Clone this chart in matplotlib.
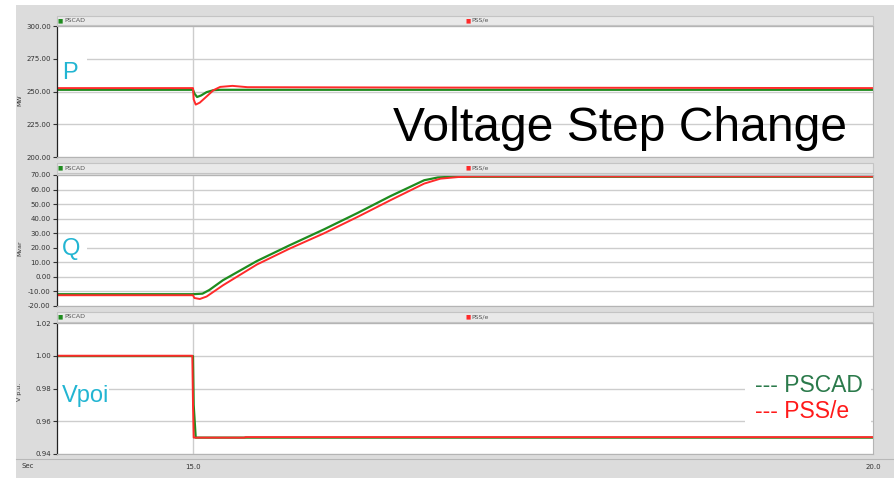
import matplotlib.pyplot as plt
from matplotlib.patches import Rectangle
from matplotlib.lines import Line2D

W, H = 894, 478

# ---- data ----
t_p_pscad = [14.0, 15.0, 15.01, 15.03, 15.06, 15.1, 15.15, 15.2, 20.0]
p_pscad = [251.3, 251.3, 248.5, 245.8, 247.0, 249.5, 251.0, 251.3, 251.3]
t_p_psse = [14.0, 15.0, 15.005, 15.02, 15.05, 15.1, 15.15, 15.2, 15.29, 15.4, 16.8, 20.0]
p_psse = [252.6, 252.6, 244.0, 240.0, 241.5, 246.2, 251.0, 253.5, 254.3, 253.3, 253.0, 252.6]

t_q_pscad = [14.0, 15.0, 15.07, 15.12, 15.22, 15.47, 15.71, 15.96, 16.21, 16.45, 16.70, 16.80, 16.9, 20.0]
q_pscad = [-11.9, -11.9, -11.5, -9.0, -2.3, 10.9, 21.7, 32.5, 43.9, 55.4, 66.4, 68.3, 68.8, 68.8]
t_q_psse = [14.0, 15.0, 15.01, 15.05, 15.1, 15.22, 15.47, 15.71, 15.96, 16.21, 16.45, 16.70, 16.82, 16.95, 17.06, 20.0]
q_psse = [-12.6, -12.6, -14.5, -15.2, -13.5, -5.8, 8.5, 19.4, 29.8, 41.2, 52.6, 64.1, 67.5, 68.6, 69.0, 69.0]

t_v_pscad = [14.0, 15.0, 15.005, 15.02, 20.0]
v_pscad = [0.9998, 0.9998, 0.97, 0.950, 0.950]
t_v_psse = [14.0, 14.995, 15.0, 15.005, 15.38, 15.385, 20.0]
v_psse = [1.0, 1.0, 0.97, 0.950, 0.950, 0.9503, 0.9503]

p_ticks = [200, 225, 250, 275, 300]
q_ticks = [-20, -10, 0, 10, 20, 30, 40, 50, 60, 70]
v_ticks = [0.94, 0.96, 0.98, 1.00, 1.02]
x_ticks = [15.0, 20.0]

GREEN = '#1e8c1e'
RED = '#ff2a2a'
CYAN = '#22b5d2'
GRID = '#cdcdcd'
BG = '#dcdcdc'


def fr(x0, y0, x1, y1):
    return [x0 / W, 1 - y1 / H, (x1 - x0) / W, (y1 - y0) / H]


def frect(x0, y0, x1, y1, **kw):
    r = Rectangle((x0 / W, 1 - y1 / H), (x1 - x0) / W, (y1 - y0) / H,
                  transform=fig.transFigure, **kw)
    fig.patches.append(r)


def blank(ax, x0, y0, x1, y1):
    # white patch behind the labels that hides the grid lines
    r = Rectangle((x0 / W, 1 - y1 / H), (x1 - x0) / W, (y1 - y0) / H,
                  transform=fig.transFigure, facecolor='white', edgecolor='none', zorder=1.5)
    ax.add_patch(r)


fig = plt.figure(figsize=(W / 100, H / 100), dpi=100)
fig.patch.set_facecolor('white')
frect(16, 5, 894, 478, facecolor=BG, edgecolor='none', zorder=-10)

# title bars with the small legends
for y0, y1 in [(16, 25), (163, 173), (312, 322)]:
    frect(57, y0, 873, y1, facecolor='#e9e9e9', edgecolor='#c4c4c4', lw=0.8, zorder=1)
    yc = 1 - (y0 + y1) / 2 / H
    fig.text(58 / W, yc, '\u25a0', color=GREEN, fontsize=4, va='center')
    fig.text(64 / W, yc, 'PSCAD', color='#555555', fontsize=4.5, va='center')
    fig.text(466 / W, yc, '\u25a0', color=RED, fontsize=4, va='center')
    fig.text(471 / W, yc, 'PSS/e', color='#555555', fontsize=4.5, va='center')


def setup(ax, ylim, yticks, ylabel, ylab_y):
    ax.set_facecolor('white')
    ax.set_xlim(14.0, 20.0)
    ax.set_ylim(ylim)
    ax.set_yticks(yticks)
    ax.set_yticklabels(['%.2f' % v for v in yticks])
    ax.tick_params(axis='y', labelsize=5, length=3, width=0.8, colors='#333333', pad=1.5)
    ax.grid(axis='y', color=GRID, lw=1)
    ax.axvline(15.0, color=GRID, lw=1, zorder=0.5)
    ax.set_axisbelow(True)
    for s in ['top', 'right', 'bottom']:
        ax.spines[s].set_color('#b4b4b4')
        ax.spines[s].set_linewidth(0.8)
    ax.spines['left'].set_color('#222222')
    ax.spines['left'].set_linewidth(0.9)
    fig.text(20 / W, 1 - ylab_y / H, ylabel, rotation=90, fontsize=4.5,
             color='#333333', ha='center', va='center')


ax1 = fig.add_axes(fr(57, 26, 873, 157))
ax2 = fig.add_axes(fr(57, 175, 873, 306))
ax3 = fig.add_axes(fr(57, 323, 873, 454))

setup(ax1, (200, 300), p_ticks, 'MW', 100)
setup(ax2, (-20, 70), q_ticks, 'Mvar', 248)
setup(ax3, (0.94, 1.02), v_ticks, 'V p.u.', 392)

ax1.plot(t_p_pscad, p_pscad, color=GREEN, lw=1.6, zorder=2)
ax1.plot(t_p_psse, p_psse, color=RED, lw=1.4, zorder=2)
ax2.plot(t_q_pscad, q_pscad, color=GREEN, lw=1.6, zorder=2)
ax2.plot(t_q_psse, q_psse, color=RED, lw=1.4, zorder=2)
ax3.plot(t_v_pscad, v_pscad, color=GREEN, lw=1.6, zorder=2)
ax3.plot(t_v_psse, v_psse, color=RED, lw=1.4, zorder=2)

for ax in (ax1, ax2):
    ax.set_xticks([])
ax3.set_xticks(x_ticks)
ax3.set_xticklabels(['%.1f' % v for v in x_ticks])
ax3.tick_params(axis='x', labelsize=5, length=0, colors='#333333', pad=7)

# bottom axis strip
fig.lines.append(Line2D([16 / W, 894 / W], [1 - 459 / H] * 2, transform=fig.transFigure,
                        color='#b8b8b8', lw=0.8))
fig.text(22 / W, 1 - 466 / H, 'Sec', fontsize=5, color='#333333', va='center')

big = ['Liberation Sans', 'DejaVu Sans']
blank(ax1, 57, 53, 87, 84)
blank(ax2, 57, 236, 87, 259)
blank(ax3, 57, 380, 109, 414)
blank(ax3, 745, 372, 871, 428)
ax1.text(14.037, 264.5, 'P', color=CYAN, fontsize=17, family=big, va='center')
ax2.text(14.037, 19.0, 'Q', color=CYAN, fontsize=17, family=big, va='center')
ax3.text(14.037, 0.9752, 'Vpoi', color=CYAN, fontsize=17, family=big, va='center')
ax1.text(16.473, 212.1, 'Voltage Step Change', color='black', fontsize=34.6,
         family=big, va='baseline')
ax3.text(19.13, 0.9778, '--- PSCAD', color='#2b7a4b', fontsize=16.5, family=big,
         va='baseline')
ax3.text(19.13, 0.9620, '--- PSS/e', color='#ff1a1a', fontsize=16.5, family=big,
         va='baseline')

fig.savefig('out.png', dpi=100)
